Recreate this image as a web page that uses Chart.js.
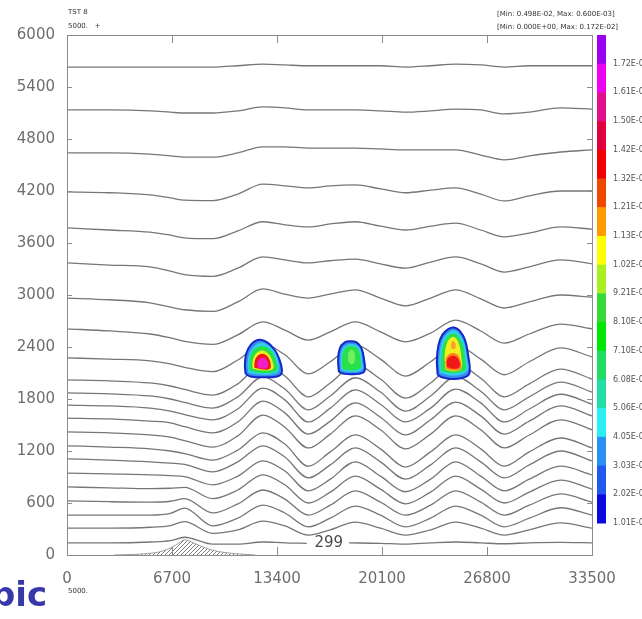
<!DOCTYPE html>
<html>
<head>
<meta charset="utf-8">
<script src="https://cdn.jsdelivr.net/npm/chart.js@4.4.0/dist/chart.umd.min.js"></script>
<style>
html, body { margin: 0; padding: 0; background: #fff; }
#wrap { width: 642px; height: 619px; }
</style>
</head>
<body>
<div id="wrap"><canvas id="c" width="642" height="619"></canvas></div>
<script>
// axis ticks
const xTicks = [0, 6700, 13400, 20100, 26800, 33500];
const yTicks = [0, 600, 1200, 1800, 2400, 3000, 3600, 4200, 4800, 5400, 6000];

// sample positions (m) along x where the isentropes were read
const xPos = [0, 2700, 5300, 6600, 7500, 9300, 10900, 12500, 13900, 15400, 16800,
              18400, 20000, 21600, 23200, 24800, 26400, 27900, 29500, 31500, 33500];

// isentrope heights (m), top line first
const isentropes = [
  [5630,5630,5630,5630,5630,5630,5645,5665,5655,5645,5645,5645,5645,5630,5645,5665,5655,5630,5645,5645,5645],
  [5135,5135,5125,5110,5100,5100,5125,5170,5160,5135,5135,5135,5125,5110,5125,5145,5135,5090,5110,5160,5145],
  [4640,4640,4625,4605,4590,4590,4640,4710,4710,4695,4695,4695,4685,4675,4675,4675,4615,4560,4605,4650,4675],
  [4190,4180,4155,4120,4095,4090,4165,4280,4260,4235,4260,4270,4225,4180,4210,4235,4165,4085,4145,4200,4200],
  [3775,3750,3725,3690,3660,3650,3740,3845,3810,3785,3820,3845,3795,3750,3795,3830,3750,3670,3715,3785,3760],
  [3370,3345,3325,3275,3235,3215,3310,3440,3405,3370,3395,3415,3360,3310,3380,3440,3360,3265,3325,3405,3360],
  [2965,2945,2910,2860,2830,2810,2920,3070,3010,2965,3010,3060,2965,2875,2965,3060,2955,2850,2920,3000,2975],
  [2610,2585,2550,2505,2465,2430,2540,2690,2595,2480,2575,2690,2575,2460,2560,2710,2585,2445,2550,2665,2610],
  [2275,2260,2240,2205,2165,2115,2250,2435,2310,2090,2230,2425,2260,2065,2230,2425,2260,2080,2230,2390,2285],
  [2020,2010,1985,1950,1910,1845,1975,2205,2065,1825,1985,2195,2030,1810,1985,2205,2040,1825,1975,2145,2030],
  [1870,1860,1835,1800,1760,1695,1825,2055,1915,1675,1835,2045,1880,1660,1835,2055,1890,1675,1825,1995,1880],
  [1730,1720,1695,1660,1620,1560,1685,1925,1790,1535,1695,1905,1740,1535,1695,1915,1755,1535,1685,1855,1740],
  [1580,1570,1545,1525,1480,1410,1535,1775,1640,1395,1545,1755,1590,1385,1560,1765,1605,1395,1545,1720,1605],
  [1420,1410,1385,1360,1320,1245,1375,1615,1475,1235,1395,1605,1445,1225,1395,1605,1445,1235,1385,1560,1445],
  [1260,1245,1225,1200,1170,1095,1210,1410,1280,1025,1190,1385,1225,1015,1190,1385,1225,1025,1190,1350,1235],
  [1110,1095,1075,1060,1045, 960,1075,1260,1130, 890,1040,1235,1075, 875,1040,1235,1075, 890,1040,1200,1085],
  [ 945, 935, 925, 915, 905, 810, 910,1085, 970, 740, 875,1075, 910, 730, 875,1075, 910, 740, 875,1025, 925],
  [ 785, 775, 765, 770, 780, 650, 750, 925, 810, 600, 725, 910, 760, 590, 725, 910, 760, 600, 725, 865, 760],
  [ 625, 615, 610, 620, 650, 485, 590, 750, 645, 460, 575, 740, 610, 460, 575, 740, 610, 460, 575, 705, 610],
  [ 460, 460, 460, 480, 540, 335, 425, 575, 485, 325, 425, 565, 460, 325, 425, 565, 460, 325, 425, 545, 460],
  [ 310, 310, 320, 340, 385, 250, 290, 390, 335, 230, 290, 380, 310, 230, 290, 380, 310, 230, 290, 370, 310]
];

// lowest isentrope (labelled 299), broken where the label sits
const lowX = [0, 2700, 5300, 6600, 7500, 9300, 10900, 12500, 13900, 15300, 16700,
              18000, 20000, 21600, 23200, 24800, 26400, 27900, 29500, 31500, 33500];
const lowH = [140, 140, 150, 165, 205, 125, 125, 150, 140, 135, null,
              140, 135, 125, 140, 150, 140, 130, 140, 145, 140];
const lowLabel = '299';
const lowLabelX = 16700;
const lowLabelH = 135;

// terrain
const terrainX = [3000, 5000, 6000, 6700, 7200, 7500, 7900, 8500, 9200, 10000, 11000, 12000];
const terrainH = [0, 15, 40, 90, 145, 175, 155, 105, 60, 30, 12, 0];

// cloud blobs: each layer is a closed outline [x, h], outer layer first
const blob1 = [
  [[11400,2090],[11350,2200],[11450,2330],[11750,2430],[12150,2480],[12600,2470],[13000,2420],[13400,2320],[13650,2200],[13700,2100],[13400,2060],[12500,2050],[11700,2060],[11400,2090]],
  [[11550,2110],[11520,2210],[11650,2330],[11950,2410],[12350,2450],[12750,2430],[13150,2370],[13450,2260],[13520,2130],[13200,2090],[12500,2080],[11800,2090],[11550,2110]],
  [[11650,2130],[11650,2230],[11800,2330],[12100,2390],[12450,2410],[12800,2390],[13150,2320],[13350,2220],[13380,2130],[12500,2100],[11650,2130]],
  [[11850,2150],[11850,2240],[12050,2320],[12450,2360],[12850,2320],[13100,2240],[13150,2150],[12500,2130],[11850,2150]],
  [[11950,2160],[12000,2250],[12250,2310],[12550,2320],[12850,2280],[13000,2200],[12950,2150],[12500,2140],[11950,2160]],
  [[12150,2170],[12200,2240],[12450,2280],[12700,2260],[12850,2200],[12750,2160],[12450,2150],[12150,2170]]
];
const blob1Colors = ['#3a8cf0', '#30d0e8', '#28e048', '#f0f020', '#f01818', '#f020c8'];

const blob2 = [
  [[17350,2110],[17300,2250],[17400,2380],[17700,2450],[18100,2465],[18500,2450],[18800,2380],[18950,2260],[18980,2120],[18600,2090],[18150,2085],[17700,2090],[17350,2110]],
  [[17480,2130],[17450,2250],[17550,2370],[17800,2420],[18150,2435],[18500,2420],[18750,2360],[18830,2250],[18840,2140],[18150,2110],[17480,2130]],
  [[17580,2150],[17560,2250],[17650,2350],[17900,2400],[18150,2410],[18450,2395],[18650,2340],[18720,2250],[18720,2160],[18150,2130],[17580,2150]],
  [[17950,2230],[17950,2330],[18150,2370],[18350,2330],[18350,2230],[18150,2200],[17950,2230]]
];
const blob2Colors = ['#3a8cf0', '#30d0e8', '#28e048', '#70f060'];

const blob3 = [
  [[23650,2080],[23600,2250],[23700,2420],[23950,2540],[24350,2610],[24700,2625],[25050,2590],[25400,2480],[25600,2300],[25700,2120],[25500,2060],[24700,2030],[23950,2050],[23650,2080]],
  [[23780,2100],[23750,2250],[23850,2410],[24100,2520],[24450,2580],[24750,2590],[25050,2550],[25350,2440],[25520,2280],[25560,2130],[24700,2070],[23780,2100]],
  [[23900,2120],[23880,2260],[23980,2400],[24200,2500],[24500,2550],[24800,2550],[25050,2500],[25300,2400],[25400,2260],[25420,2140],[24700,2100],[23900,2120]],
  [[24150,2140],[24100,2280],[24200,2420],[24450,2500],[24750,2510],[25000,2440],[25150,2300],[25150,2150],[24650,2120],[24150,2140]],
  [[24550,2380],[24500,2430],[24650,2470],[24800,2430],[24750,2380],[24550,2380]],
  [[24180,2150],[24170,2260],[24400,2320],[24800,2325],[25060,2270],[25120,2150],[24650,2130],[24180,2150]],
  [[24250,2170],[24250,2250],[24450,2290],[24750,2295],[25000,2250],[25050,2170],[24650,2150],[24250,2170]]
];
const blob3Colors = ['#3a8cf0', '#30d0e8', '#28e048', '#f0f020', '#ffa020', '#ff8020', '#f01818'];

// colour bar, top to bottom
const barColors = ['#9b00f0', '#f000f0', '#e0108a', '#e00040', '#f00000', '#f04800', '#ff9a00', '#ffff00',
                   '#a8f020', '#38d838', '#00e800', '#20dc60', '#20e0a8', '#28f0f0', '#2890f0', '#2058f0', '#0a0ae0'];
const barLabels = ['1.72E-03', '1.61E-03', '1.50E-03', '1.42E-03', '1.32E-03', '1.21E-03', '1.13E-03', '1.02E-03',
                   '9.21E-04', '8.10E-04', '7.10E-04', '6.08E-04', '5.06E-04', '4.05E-04', '3.03E-04', '2.02E-04', '1.01E-04'];

const headLeft = ['TST 8', '5000.   +'];
const headRight = ['[Min: 0.498E-02, Max: 0.600E-03]', '[Min: 0.000E+00, Max: 0.172E-02]'];

// hatch pattern for the mountain
function makeHatch() {
  let pc = document.createElement('canvas');
  pc.width = 4; pc.height = 4;
  let g = pc.getContext('2d');
  g.strokeStyle = '#5a5a5a';
  g.lineWidth = 0.8;
  g.beginPath();
  g.moveTo(0, 4); g.lineTo(4, 0);
  g.moveTo(-1, 1); g.lineTo(1, -1);
  g.moveTo(3, 5); g.lineTo(5, 3);
  g.stroke();
  return g.createPattern(pc, 'repeat');
}

let datasets = [];

function addBlob(layers, colors) {
  layers.forEach((layer, i) => {
    datasets.push({
      data: layer.map(p => ({x: p[0], y: p[1]})),
      showLine: true,
      fill: 'shape',
      backgroundColor: colors[i],
      borderColor: i === 0 ? '#1428c8' : colors[i],
      borderWidth: i === 0 ? 2 : 0,
      pointRadius: 0,
      tension: 0.4,
      order: 10 - i
    });
  });
}
addBlob(blob1, blob1Colors);
addBlob(blob2, blob2Colors);
addBlob(blob3, blob3Colors);

for (let line of isentropes) {
  datasets.push({
    data: xPos.map((x, i) => ({x: x, y: line[i]})),
    showLine: true,
    fill: false,
    borderColor: '#767676',
    borderWidth: 1.3,
    pointRadius: 0,
    cubicInterpolationMode: 'monotone',
    order: 20
  });
}
datasets.push({
  data: lowX.map((x, i) => ({x: x, y: lowH[i]})),
  showLine: true,
  spanGaps: false,
  fill: false,
  borderColor: '#767676',
  borderWidth: 1.3,
  pointRadius: 0,
  cubicInterpolationMode: 'monotone',
  order: 20
});

const ctx = document.getElementById('c').getContext('2d');
datasets.push({
  data: terrainX.map((x, i) => ({x: x, y: terrainH[i]})),
  showLine: true,
  fill: 'origin',
  backgroundColor: makeHatch(),
  borderColor: '#8a8a8a',
  borderWidth: 0.8,
  pointRadius: 0,
  cubicInterpolationMode: 'monotone',
  order: 30
});

const decor = {
  id: 'decor',
  afterDraw(chart) {
    const c = chart.ctx;
    const a = chart.chartArea;
    const xs = chart.scales.x, ys = chart.scales.y;
    c.save();
    // frame
    c.strokeStyle = '#8c8c8c';
    c.lineWidth = 1;
    c.strokeRect(a.left + 0.5, a.top + 0.5, a.right - a.left, a.bottom - a.top);
    // frame ticks
    c.beginPath();
    for (let v of xTicks.slice(1, -1)) {
      let px = Math.round(xs.getPixelForValue(v)) + 0.5;
      c.moveTo(px, a.top); c.lineTo(px, a.top + 8);
      c.moveTo(px, a.bottom); c.lineTo(px, a.bottom - 8);
    }
    for (let v of yTicks.slice(1, -1)) {
      let py = Math.round(ys.getPixelForValue(v)) + 0.5;
      c.moveTo(a.left, py); c.lineTo(a.left + 5, py);
      c.moveTo(a.right, py); c.lineTo(a.right - 5, py);
    }
    c.stroke();

    // label on lowest isentrope
    c.fillStyle = '#4a4a4a';
    c.font = '15px "DejaVu Sans"';
    c.textAlign = 'center';
    c.textBaseline = 'middle';
    c.fillText(lowLabel, xs.getPixelForValue(lowLabelX), ys.getPixelForValue(lowLabelH));

    // colour bar
    const bx = a.right + 5, bw = 9;
    const bh = (a.bottom - a.top - 32) / barColors.length;
    barColors.forEach((col, i) => {
      c.fillStyle = col;
      c.fillRect(bx, a.top + i * bh, bw, bh + 0.5);
    });
    c.fillStyle = '#555';
    c.font = '8px "DejaVu Sans"';
    c.textAlign = 'left';
    barLabels.forEach((lab, i) => {
      c.fillText(lab, bx + 16, a.top + (i + 1) * bh);
    });

    // header texts
    c.font = '7px "DejaVu Sans"';
    c.fillStyle = '#333';
    c.textBaseline = 'middle';
    c.fillText(headLeft[0], a.left + 1, 12);
    c.fillText(headLeft[1], a.left + 1, 26);
    c.fillText(headRight[0], 497, 14);
    c.fillText(headRight[1], 497, 27);
    c.fillText('5000.', a.left + 1, 591);

    // logo
    c.font = 'bold 34px "DejaVu Sans"';
    c.fillStyle = '#3838a8';
    c.textBaseline = 'alphabetic';
    c.fillText('pic', -9, 606);
    c.restore();
  }
};

new Chart(ctx, {
  type: 'scatter',
  data: { datasets: datasets },
  options: {
    responsive: false,
    animation: false,
    devicePixelRatio: 1,
    layout: { padding: { left: 0, right: 50, top: 35, bottom: 0 } },
    plugins: { legend: { display: false }, tooltip: { enabled: false } },
    scales: {
      x: {
        type: 'linear', min: 0, max: 33500,
        afterBuildTicks: s => { s.ticks = xTicks.map(v => ({ value: v })); },
        afterFit: s => { s.height = 64; },
        grid: { display: false, drawTicks: false },
        border: { display: true, color: '#8c8c8c' },
        ticks: { color: '#6e6e6e', font: { family: 'DejaVu Sans', size: 15 }, padding: 15,
                 maxRotation: 0, autoSkip: false, callback: v => String(v) }
      },
      y: {
        type: 'linear', min: 0, max: 6000,
        afterBuildTicks: s => { s.ticks = yTicks.map(v => ({ value: v })); },
        afterFit: s => { s.width = 67; },
        grid: { display: false, drawTicks: false },
        border: { display: true, color: '#8c8c8c' },
        ticks: { color: '#6e6e6e', font: { family: 'DejaVu Sans', size: 15 }, padding: 12,
                 callback: v => String(v) }
      }
    }
  },
  plugins: [decor]
});
</script>
</body>
</html>
